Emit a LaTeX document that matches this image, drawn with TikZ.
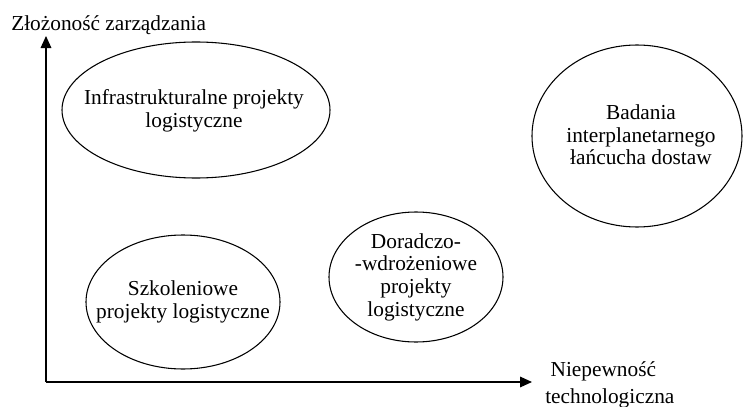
\documentclass[tikz,border=0pt]{standalone}
\usepackage{fontspec}
\setmainfont{Liberation Serif}
\usetikzlibrary{arrows.meta}
\begin{document}
\begin{tikzpicture}[x=0.75pt,y=-0.75pt,font=\fontsize{16}{17}\selectfont,
      lbl/.style={align=center, inner sep=0pt},
      ring/.style={draw, line width=0.8pt},
      axis/.style={-{Triangle[length=9pt,width=8pt]}, line width=0.9pt}]
    \useasboundingbox (0,0) rectangle (744,407);
    \coordinate (o) at (46,382);
    \coordinate (ytop) at (46,36);
    \coordinate (xend) at (532,382);
    \draw[axis] (o) -- (ytop);
    \draw[axis] (o) -- (xend);
    \node[anchor=west, inner sep=0pt] (ylab) at (11,25) {Złożoność zarządzania};
    \node[anchor=west, align=left, inner sep=0pt] (xlab) at (545,385) {\ Niepewność\\[3pt]technologiczna};
    \node[lbl] (infra) at (194,111) {Infrastrukturalne projekty\\logistyczne};
    \draw[ring] (196,110) ellipse [x radius=134, y radius=68];
    \node[lbl] (bad) at (641,135) {Badania\\interplanetarnego\\łańcucha dostaw};
    \draw[ring] (637,136) ellipse [x radius=105, y radius=91];
    \node[lbl] (szk) at (183,302) {Szkoleniowe\\projekty logistyczne};
    \draw[ring] (szk.center) ellipse [x radius=97, y radius=67];
    \node[lbl] (dor) at (416,277) {Doradczo-\\-wdrożeniowe\\projekty\\logistyczne};
    \draw[ring] (dor.center) ellipse [x radius=87, y radius=65];
  \end{tikzpicture}
\end{document}
